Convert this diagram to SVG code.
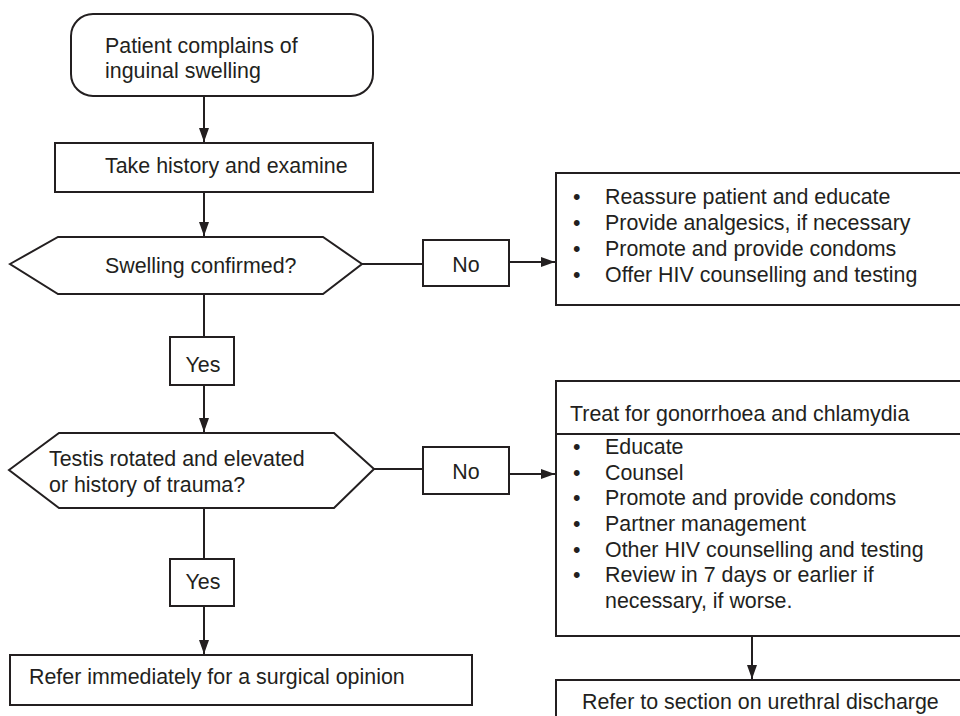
<svg xmlns="http://www.w3.org/2000/svg" width="960" height="716" viewBox="0 0 960 716">
<defs>
<style>
.s{fill:#fff;stroke:#231f20;stroke-width:2}
.c{fill:none;stroke:#231f20;stroke-width:2}
text{font-family:"Liberation Sans",Arial,sans-serif;font-size:21.4px;fill:#231f20}
.m{text-anchor:middle}
</style>
<marker id="ah" viewBox="0 0 14 10" refX="14" refY="5" markerWidth="14" markerHeight="10" markerUnits="userSpaceOnUse" orient="auto">
<path d="M0,0 L14,5 L0,10 z" fill="#231f20"/>
</marker>
</defs>
<rect width="960" height="716" fill="#fff"/>
<g id="connectors">
<line class="c" x1="204" y1="96" x2="204" y2="142" marker-end="url(#ah)"/>
<line class="c" x1="204" y1="192" x2="204" y2="236" marker-end="url(#ah)"/>
<line class="c" x1="362" y1="264" x2="423" y2="264"/>
<line class="c" x1="509" y1="262" x2="555" y2="262" marker-end="url(#ah)"/>
<line class="c" x1="204" y1="294" x2="204" y2="337"/>
<line class="c" x1="204" y1="385" x2="204" y2="432" marker-end="url(#ah)"/>
<line class="c" x1="374" y1="469" x2="423" y2="469"/>
<line class="c" x1="509" y1="474" x2="555" y2="474" marker-end="url(#ah)"/>
<line class="c" x1="204" y1="508" x2="204" y2="559"/>
<line class="c" x1="204" y1="606" x2="204" y2="654" marker-end="url(#ah)"/>
<line class="c" x1="752" y1="636" x2="752" y2="679" marker-end="url(#ah)"/>
</g>
<g id="start">
<rect class="s" x="71" y="14" width="302" height="82" rx="22"/>
<text x="105" y="53">Patient complains of</text>
<text x="105" y="78">inguinal swelling</text>
</g>
<g id="history">
<rect class="s" x="55" y="143" width="318" height="49"/>
<text x="105" y="173">Take history and examine</text>
</g>
<g id="decision1">
<polygon class="s" points="10,264 58,237 323,237 362,264 323,294 58,294"/>
<text x="105" y="273">Swelling confirmed?</text>
</g>
<g id="no1">
<rect class="s" x="423" y="240" width="86" height="46"/>
<text class="m" x="466" y="272">No</text>
</g>
<g id="reassure">
<rect class="s" x="556" y="173" width="420" height="132"/>
<text x="573" y="204">•</text><text x="605" y="204">Reassure patient and educate</text>
<text x="573" y="230">•</text><text x="605" y="230">Provide analgesics, if necessary</text>
<text x="573" y="256">•</text><text x="605" y="256">Promote and provide condoms</text>
<text x="573" y="282">•</text><text x="605" y="282">Offer HIV counselling and testing</text>
</g>
<g id="yes1">
<rect class="s" x="170" y="337" width="64" height="48"/>
<text class="m" x="203" y="372">Yes</text>
</g>
<g id="decision2">
<polygon class="s" points="9,470 59,433 334,433 374,469 334,508 59,508"/>
<text x="49" y="466">Testis rotated and elevated</text>
<text x="49" y="492">or history of trauma?</text>
</g>
<g id="no2">
<rect class="s" x="423" y="447" width="86" height="47"/>
<text class="m" x="466" y="479">No</text>
</g>
<g id="treat">
<rect class="s" x="556" y="381" width="420" height="255"/>
<line class="c" x1="556" y1="434" x2="976" y2="434"/>
<text x="570" y="421">Treat for gonorrhoea and chlamydia</text>
<text x="573" y="454">•</text><text x="605" y="454">Educate</text>
<text x="573" y="480">•</text><text x="605" y="480">Counsel</text>
<text x="573" y="505">•</text><text x="605" y="505">Promote and provide condoms</text>
<text x="573" y="531">•</text><text x="605" y="531">Partner management</text>
<text x="573" y="557">•</text><text x="605" y="557">Other HIV counselling and testing</text>
<text x="573" y="582">•</text><text x="605" y="582">Review in 7 days or earlier if</text>
<text x="605" y="608">necessary, if worse.</text>
</g>
<g id="yes2">
<rect class="s" x="170" y="559" width="64" height="47"/>
<text class="m" x="203" y="589">Yes</text>
</g>
<g id="surgical">
<rect class="s" x="10" y="655" width="462" height="50"/>
<text x="29" y="684">Refer immediately for a surgical opinion</text>
</g>
<g id="urethral">
<rect class="s" x="556" y="680" width="420" height="60"/>
<text x="582" y="709">Refer to section on urethral discharge</text>
</g>
</svg>
